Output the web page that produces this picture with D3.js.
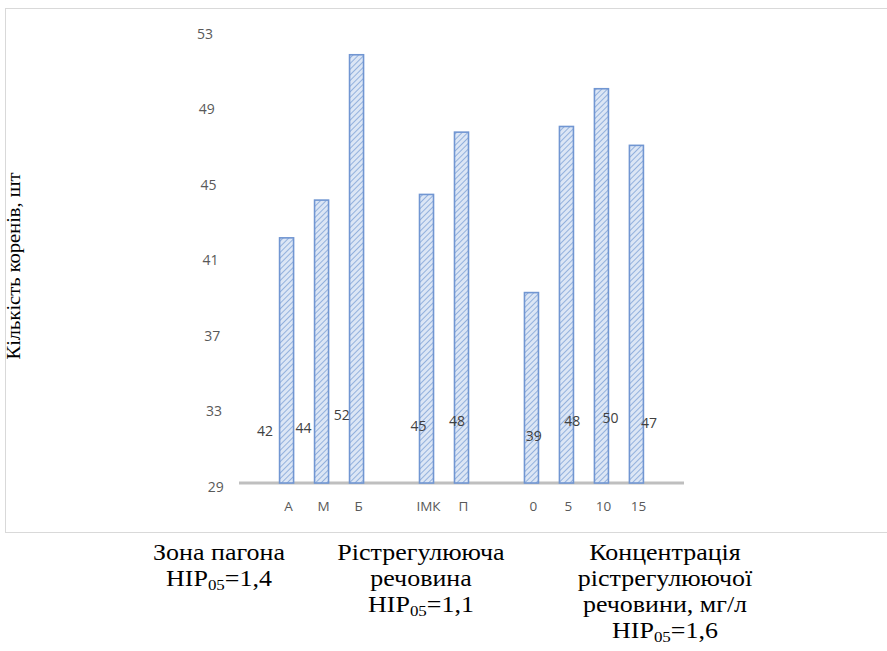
<html>
<head>
<script src="https://d3js.org/d3.v7.min.js"></script>
<style>
  body { margin: 0; background: #fff; }
</style>
</head>
<body>
<svg width="887" height="651"></svg>
<script>
// data
var categories = ["А", "М", "Б", "", "ІМК", "П", " ", "0", "5", "10", "15"];
var values = [42.2, 44.2, 51.9, null, 44.5, 47.8, null, 39.3, 48.1, 50.1, 47.1];
var labels = ["42", "44", "52", null, "45", "48", null, "39", "48", "50", "47"];
var yTicks = [29, 33, 37, 41, 45, 49, 53];
var groups = [
  ["Зона пагона", "НІР|05|=1,4"],
  ["Рістрегулююча", "речовина", "НІР|05|=1,1"],
  ["Концентрація", "рістрегулюючої", "речовини, мг/л", "НІР|05|=1,6"]
];

var sans = "'Open Sans', sans-serif";
var serif = "'Liberation Serif', 'Times New Roman', serif";

var svg = d3.select("svg");

// chart frame
svg.append("rect")
  .attr("x", 5.5).attr("y", 8.5)
  .attr("width", 890).attr("height", 524)
  .attr("fill", "none").attr("stroke", "#d9d9d9");

var x = d3.scalePoint().domain(categories).range([239, 684]).padding(1.36);
var y = d3.scaleLinear().domain([29, 53]).range([487, 34]);
// value labels sit on their own squeezed scales
var lx = d3.scalePoint().domain(categories).range([265, 649]);
var ly = d3.scaleLinear().domain([39, 52]).range([441, 420]);

var defs = svg.append("defs");
var pat = defs.append("pattern")
  .attr("id", "hatch").attr("patternUnits", "userSpaceOnUse")
  .attr("width", 4).attr("height", 4)
  .attr("patternTransform", "rotate(45)");
pat.append("rect").attr("width", 4).attr("height", 4).attr("fill", "#dce6f5");
pat.append("line").attr("x1", 0).attr("y1", 0).attr("x2", 0).attr("y2", 4)
  .attr("stroke", "#7b9fd6").attr("stroke-width", 1.5);

// y tick labels (slightly slanted like the original)
svg.append("g").selectAll("text")
  .data(yTicks).enter().append("text")
  .attr("font-family", sans)
  .attr("x", function(d) { return 205 + (53 - d) * 0.45; })
  .attr("y", function(d) { return y(d); })
  .attr("dy", "0.35em")
  .attr("text-anchor", "middle")
  .attr("fill", "#595959")
  .attr("font-size", 14)
  .text(function(d) { return d; });

// baseline
svg.append("line")
  .attr("x1", 239).attr("x2", 684)
  .attr("y1", 483).attr("y2", 483)
  .attr("stroke", "#bfbfbf").attr("stroke-width", 3);

var bw = 14;
var data = categories.map(function(c, i) { return {c: c, v: values[i], l: labels[i]}; })
  .filter(function(d) { return d.v != null; });

svg.append("g").selectAll("rect")
  .data(data).enter().append("rect")
  .attr("x", function(d) { return x(d.c) - bw / 2; })
  .attr("y", function(d) { return y(d.v); })
  .attr("width", bw)
  .attr("height", function(d) { return 483 - y(d.v); })
  .attr("fill", "url(#hatch)")
  .attr("stroke", "#7196d2").attr("stroke-width", 1.6);

svg.append("g").selectAll("text")
  .data(data).enter().append("text")
  .attr("font-family", sans)
  .attr("x", function(d) { return lx(d.c); })
  .attr("y", function(d) { return ly(+d.l); })
  .attr("text-anchor", "middle")
  .attr("fill", "#404040")
  .attr("font-size", 14)
  .text(function(d) { return d.l; });

// category labels
svg.append("g").selectAll("text")
  .data(data).enter().append("text")
  .attr("font-family", sans)
  .attr("x", function(d) { return x(d.c) + 2; })
  .attr("y", 511)
  .attr("text-anchor", "middle")
  .attr("fill", "#595959")
  .attr("font-size", 13.5)
  .text(function(d) { return d.c; });

// y title
svg.append("text")
  .attr("font-family", serif)
  .attr("transform", "translate(20,266) rotate(-90) scale(1.08,1)")
  .attr("text-anchor", "middle")
  .attr("font-size", 19)
  .text("Кількість коренів, шт");

// group captions under the frame (text is a little wide in the original)
var gx = [219, 421, 665];
groups.forEach(function(lines, gi) {
  lines.forEach(function(line, li) {
    var t = svg.append("text")
      .attr("font-family", serif)
      .attr("transform", "translate(" + gx[gi] + "," + (560 + li * 26) + ") scale(1.13,1)")
      .attr("text-anchor", "middle")
      .attr("font-size", 23).attr("fill", "#000");
    var parts = line.split("|");
    if (parts.length === 1) { t.text(line); return; }
    t.append("tspan").text(parts[0]);
    t.append("tspan").attr("font-size", 15).attr("dy", 4).text(parts[1]);
    t.append("tspan").attr("dy", -4).text(parts[2]);
  });
});
</script>
</body>
</html>
